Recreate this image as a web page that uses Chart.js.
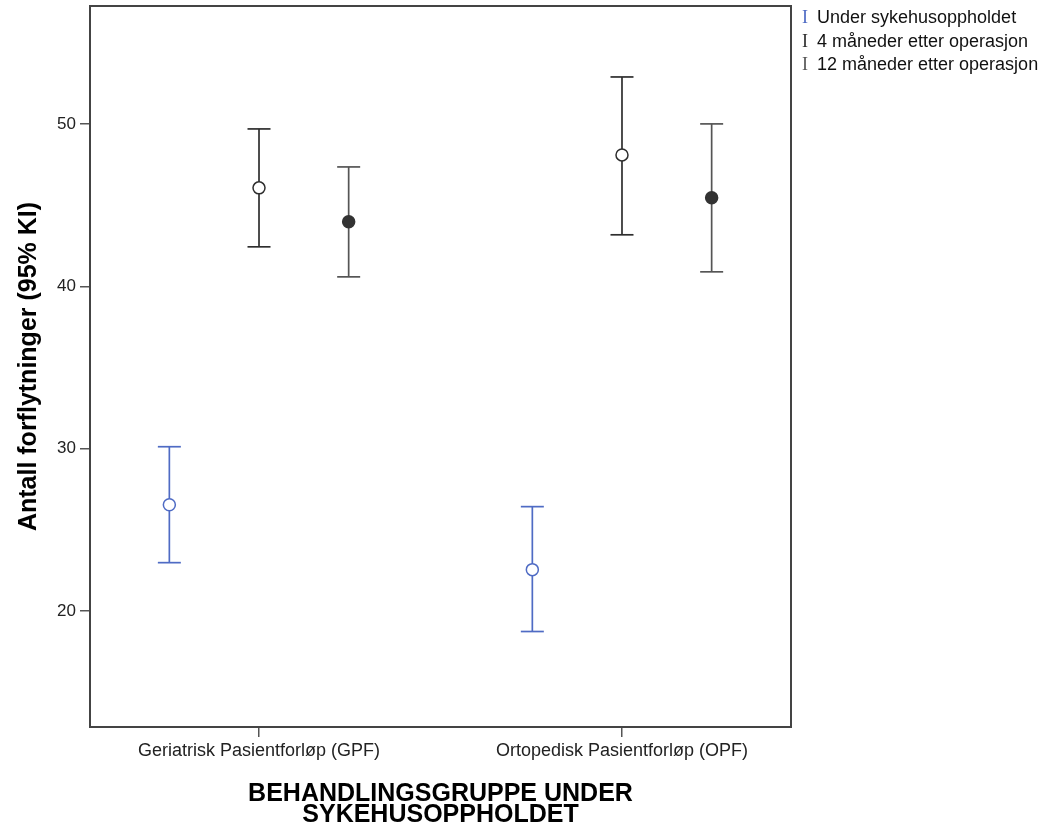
<!DOCTYPE html>
<html><head><meta charset="utf-8">
<script src="https://cdn.jsdelivr.net/npm/chart.js@4"></script>
<style>
html,body{margin:0;padding:0;background:#fff;}
#wrap{position:relative;width:1055px;height:827px;overflow:hidden;}
#c{position:absolute;left:0;top:0;}
#legend{position:absolute;left:797px;top:6px;font-family:'Liberation Sans',Arial,sans-serif;font-size:18px;color:#111;}
.row{height:23.5px;line-height:23.5px;white-space:nowrap;}
.ic{display:inline-block;width:16px;font-family:'Liberation Serif','DejaVu Serif',serif;text-align:center;margin-right:4px;}
</style></head><body>
<div id="wrap"><canvas id="c" width="1055" height="827"></canvas><div id="legend"></div></div>
<script>
// ---- data ----
const categories = ['Geriatrisk Pasientforløp (GPF)', 'Ortopedisk Pasientforløp (OPF)'];
const seriesNames = ['Under sykehusoppholdet', '4 måneder etter operasjon', '12 måneder etter operasjon'];
const underMean = [26.55, 22.55];
const underLow  = [22.98, 18.74];
const underHigh = [30.12, 26.43];
const m4Mean = [46.06, 48.09];
const m4Low  = [42.43, 43.17];
const m4High = [49.69, 52.89];
const m12Mean = [43.97, 45.45];
const m12Low  = [40.58, 40.89];
const m12High = [47.35, 50.00];
const yTicks = [20, 30, 40, 50];
const xTickValues = [1, 2];

// ---- styles ----
const colors = ['#4f6bc4', '#2e2e2e', '#555555'];
const fills = ['#ffffff', '#ffffff', '#333333'];
const offsets = [-0.247, 0, 0.247];
const FONT = "'Liberation Sans', Arial, sans-serif";

const seriesData = [
  {mean: underMean, low: underLow, high: underHigh},
  {mean: m4Mean, low: m4Low, high: m4High},
  {mean: m12Mean, low: m12Low, high: m12High}
];

const datasets = [];
seriesData.forEach((s, si) => {
  datasets.push({
    label: seriesNames[si],
    data: categories.map((c, i) => ({x: i + 1 + offsets[si], y: s.mean[i]})),
    pointStyle: 'circle',
    pointRadius: 6,
    pointHoverRadius: 6,
    pointBorderWidth: 1.5,
    pointBorderColor: fills[si] === '#ffffff' ? colors[si] : fills[si],
    pointBackgroundColor: fills[si],
    showLine: false,
    order: 0
  });
  categories.forEach((c, i) => {
    datasets.push({
      label: seriesNames[si] + ' KI',
      data: [{x: i + 1 + offsets[si], y: s.low[i]}, {x: i + 1 + offsets[si], y: s.high[i]}],
      showLine: true,
      borderColor: colors[si],
      borderWidth: 1.7,
      pointStyle: 'line',
      pointRadius: 11.5,
      pointHoverRadius: 11.5,
      pointBorderWidth: 1.7,
      pointBorderColor: colors[si],
      order: 1
    });
  });
});

const framePlugin = {
  id: 'frame',
  beforeDatasetsDraw(chart) {
    const {ctx, chartArea: a} = chart;
    ctx.save();
    ctx.strokeStyle = '#444';
    ctx.lineWidth = 2;
    ctx.strokeRect(a.left, a.top, a.right - a.left, a.bottom - a.top);
    ctx.restore();
  }
};

new Chart(document.getElementById('c'), {
  type: 'scatter',
  data: {datasets},
  options: {
    responsive: false,
    animation: false,
    devicePixelRatio: 1,
    layout: {autoPadding: false, padding: {top: 6, right: 264, left: 0, bottom: 0}},
    plugins: {legend: {display: false}, tooltip: {enabled: false}},
    scales: {
      x: {
        type: 'linear',
        min: 0.5344, max: 2.4656,
        afterFit(scale) { scale.height = 100; scale.paddingLeft = 0; scale.paddingRight = 0; },
        afterBuildTicks(scale) { scale.ticks = xTickValues.map(v => ({value: v})); },
        border: {display: false},
        grid: {drawOnChartArea: false, drawTicks: true, tickLength: 10, tickColor: '#555', tickWidth: 1.5, lineWidth: 1.5, color: '#555'},
        ticks: {
          padding: 3, maxRotation: 0, autoSkip: false,
          color: '#222', font: {family: FONT, size: 18},
          callback: (v) => categories[Math.round(v) - 1]
        },
        title: {
          display: true,
          text: ['BEHANDLINGSGRUPPE UNDER', 'SYKEHUSOPPHOLDET'],
          color: '#000',
          font: {family: FONT, size: 25, weight: 'bold', lineHeight: 0.84},
          padding: {top: 0, bottom: 1}
        }
      },
      y: {
        type: 'linear',
        min: 12.86, max: 57.26,
        afterFit(scale) { scale.width = 90; scale.paddingTop = 0; scale.paddingBottom = 0; },
        afterBuildTicks(scale) { scale.ticks = yTicks.map(v => ({value: v})); },
        border: {display: false},
        grid: {drawOnChartArea: false, drawTicks: true, tickLength: 10, tickColor: '#555', tickWidth: 1.5, lineWidth: 1.5, color: '#555'},
        ticks: {padding: 4, color: '#222', font: {family: FONT, size: 17}},
        title: {
          display: true,
          text: 'Antall forflytninger (95% KI)',
          color: '#000',
          font: {family: FONT, size: 25, weight: 'bold', lineHeight: 1.2},
          padding: {top: 14, bottom: 0}
        }
      }
    }
  },
  plugins: [framePlugin]
});

// legend (text as HTML)
const leg = document.getElementById('legend');
seriesNames.forEach((n, i) => {
  const r = document.createElement('div');
  r.className = 'row';
  const ic = document.createElement('span');
  ic.className = 'ic';
  ic.style.color = colors[i];
  ic.textContent = 'I';
  r.appendChild(ic);
  r.appendChild(document.createTextNode(n));
  leg.appendChild(r);
});
</script>
</body></html>
